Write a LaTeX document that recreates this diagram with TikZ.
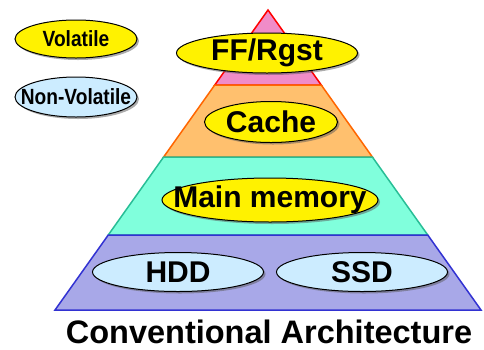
\documentclass[tikz,border=0pt]{standalone}
\usepackage{fontspec}
\setmainfont{Liberation Sans}
\usetikzlibrary{shapes.geometric}
\usetikzlibrary{shadows}
\usetikzlibrary{calc}
\definecolor{pinkband}{RGB}{240,140,200}
\definecolor{orangeband}{RGB}{255,192,110}
\definecolor{orangeedge}{RGB}{255,102,0}
\definecolor{tealband}{RGB}{128,255,220}
\definecolor{tealedge}{RGB}{40,190,150}
\definecolor{blueband}{RGB}{168,168,232}
\definecolor{blueedge}{RGB}{50,50,210}
\definecolor{nvblue}{RGB}{204,236,255}
\newcommand{\legendtxt}[1]{\scalebox{0.87}[1]{#1}}

\begin{document}
\begin{tikzpicture}[x=1pt,y=-1pt,
    band/.style={line width=1.5pt,line join=miter},
    blob/.style={ellipse,draw=black,line width=1pt,inner sep=0pt,
        drop shadow={shadow xshift=2pt,shadow yshift=-2pt,fill=black!65}},
    vol/.style={blob,fill=yellow},
    nonvol/.style={blob,fill=nvblue},
    big/.style={font=\fontsize{30}{30}\selectfont\bfseries},
    small/.style={font=\fontsize{22}{22}\selectfont\bfseries}]
    \useasboundingbox (0,0) rectangle (484,349);

    % pyramid
    \coordinate (apex) at (268,10);
    \coordinate (bl) at (55,310);
    \coordinate (br) at (481,310);
    \coordinate (l1) at ($(apex)!0.25!(bl)$);
    \coordinate (r1) at ($(apex)!0.25!(br)$);
    \coordinate (l2) at ($(apex)!0.49!(bl)$);
    \coordinate (r2) at ($(apex)!0.49!(br)$);
    \coordinate (l3) at ($(apex)!0.75!(bl)$);
    \coordinate (r3) at ($(apex)!0.75!(br)$);

    \draw[band,draw=red,fill=pinkband] (apex) -- (r1) -- (l1) -- cycle;
    \draw[band,draw=orangeedge,fill=orangeband] (l1) -- (r1) -- (r2) -- (l2) -- cycle;
    \draw[band,draw=tealedge,fill=tealband] (l2) -- (r2) -- (r3) -- (l3) -- cycle;
    \draw[band,draw=blueedge,fill=blueband] (l3) -- (r3) -- (br) -- (bl) -- cycle;

    % legend
    \node[vol,minimum width=122pt,minimum height=38pt,
        label={[small]center:\legendtxt{Volatile}}] (volatile) at (76,39) {};
    \node[nonvol,minimum width=122pt,minimum height=40pt,
        label={[small]center:\legendtxt{Non-Volatile}}] (nonvolatile) at (76,97) {};

    % levels
    \node[vol,minimum width=181pt,minimum height=40pt,
        label={[big]center:FF/Rgst}] (ff) at (267,53) {};
    \node[vol,minimum width=133pt,minimum height=41pt,
        label={[big]center:Cache}] (cache) at (271,122) {};
    \node[vol,minimum width=216pt,minimum height=44pt,
        label={[big]center:Main memory}] (mem) at (270,200) {};
    \node[nonvol,minimum width=171pt,minimum height=39pt,
        label={[big]center:HDD}] (hdd) at (178,272) {};
    \node[nonvol,minimum width=171pt,minimum height=39pt,
        label={[big]center:SSD}] (ssd) at (362,272) {};

    \node[anchor=base,inner sep=0pt,font=\fontsize{32.5}{32.5}\selectfont\bfseries]
        (title) at (269,343) {Conventional Architecture};
\end{tikzpicture}
\end{document}
